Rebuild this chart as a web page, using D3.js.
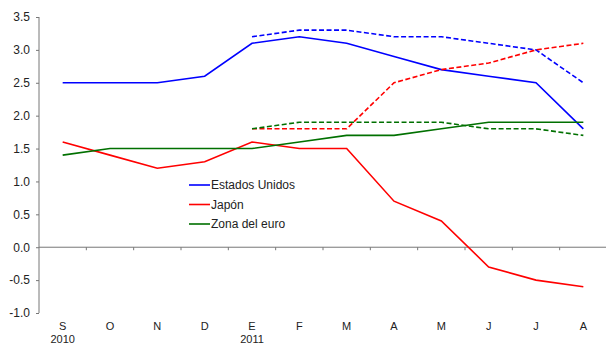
<!DOCTYPE html>
<meta charset="utf-8">
<style>
body { margin: 0; background: #fff; }
svg text { font-family: Arial, "Liberation Sans", sans-serif; fill: #222; }
.tick text { font-size: 12px; }
.axis path, .axis line { stroke: #777; }
</style>
<svg width="606" height="346"></svg>
<script src="https://cdn.jsdelivr.net/npm/d3@7"></script>
<script>

// data
var months = ["S", "O", "N", "D", "E", "F", "M", "A", "M", "J", "J", "A"];
var years = [{ label: "2010", at: 0 }, { label: "2011", at: 4 }];
var yTicks = [-1.0, -0.5, 0.0, 0.5, 1.0, 1.5, 2.0, 2.5, 3.0, 3.5];

var usActual    = [2.5, 2.5, 2.5, 2.6, 3.1, 3.2, 3.1, 2.9, 2.7, 2.6, 2.5, 1.8];
var japanActual = [1.6, 1.4, 1.2, 1.3, 1.6, 1.5, 1.5, 0.7, 0.4, -0.3, -0.5, -0.6];
var euroActual  = [1.4, 1.5, 1.5, 1.5, 1.5, 1.6, 1.7, 1.7, 1.8, 1.9, 1.9, 1.9];

// forecasts start at E (index 4)
var forecastStart = 4;
var usForecast    = [3.2, 3.3, 3.3, 3.2, 3.2, 3.1, 3.0, 2.5];
var japanForecast = [1.8, 1.8, 1.8, 2.5, 2.7, 2.8, 3.0, 3.1];
var euroForecast  = [1.8, 1.9, 1.9, 1.9, 1.9, 1.8, 1.8, 1.7];

var seriesNames = ["Estados Unidos", "Japón", "Zona del euro"];
var colors = ["#0000ff", "#ff0000", "#007000"];

var svg = d3.select("svg"),
    margin = { top: 17, right: 0, bottom: 33, left: 39 },
    width = +svg.attr("width") - margin.left - margin.right,
    height = +svg.attr("height") - margin.top - margin.bottom;

var g = svg.append("g")
    .attr("transform", "translate(" + margin.left + "," + margin.top + ")");

var x = d3.scaleBand()
    .domain(d3.range(months.length))
    .range([0, 568])
    .paddingInner(0).paddingOuter(0);

var y = d3.scaleLinear()
    .domain([-1, 3.5])
    .range([height, 0]);

function cx(i) { return x(i) + x.bandwidth() / 2; }

// y axis (plain hyphen for negatives, like the original)
var yAxis = g.append("g")
    .attr("class", "axis")
    .call(d3.axisLeft(y).tickValues(yTicks).tickSize(3).tickPadding(6)
      .tickFormat(function(d) { return d.toFixed(1); }));
yAxis.select(".domain").attr("d", "M0," + y(-1) + "V" + y(3.5));
yAxis.selectAll(".tick text").attr("fill", "#222");

// x axis along zero line, ticks between categories
var xAxisG = g.append("g")
    .attr("class", "axis")
    .attr("transform", "translate(0," + y(0) + ")");
xAxisG.append("line")
    .attr("x1", 0).attr("x2", 568)
    .attr("stroke", "#777");
xAxisG.selectAll(".xt")
  .data(d3.range(1, months.length))
  .enter().append("line")
    .attr("class", "xt")
    .attr("x1", function(d) { return x(d); })
    .attr("x2", function(d) { return x(d); })
    .attr("y1", 0).attr("y2", 3)
    .attr("stroke", "#777");

// month labels
g.selectAll(".month")
  .data(months)
  .enter().append("text")
    .attr("class", "month")
    .attr("x", function(d, i) { return cx(i); })
    .attr("y", height + 17)
    .attr("text-anchor", "middle")
    .style("font-size", "11px")
    .text(function(d) { return d; });

g.selectAll(".year")
  .data(years)
  .enter().append("text")
    .attr("class", "year")
    .attr("x", function(d) { return cx(d.at); })
    .attr("y", height + 30)
    .attr("text-anchor", "middle")
    .style("font-size", "11px")
    .text(function(d) { return d.label; });

var line = d3.line()
    .x(function(d) { return cx(d.i); })
    .y(function(d) { return y(d.v); });

var actual = [usActual, japanActual, euroActual];
var forecast = [usForecast, japanForecast, euroForecast];

actual.forEach(function(arr, k) {
  g.append("path")
    .datum(arr.map(function(v, i) { return { i: i, v: v }; }))
    .attr("fill", "none")
    .attr("stroke", colors[k])
    .attr("stroke-width", 1.6)
    .attr("d", line);
});

forecast.forEach(function(arr, k) {
  g.append("path")
    .datum(arr.map(function(v, i) { return { i: i + forecastStart, v: v }; }))
    .attr("fill", "none")
    .attr("stroke", colors[k])
    .attr("stroke-width", 1.6)
    .attr("stroke-dasharray", "5,2.5")
    .attr("d", line);
});

// legend
var legend = svg.append("g")
    .attr("transform", "translate(189,185)");
seriesNames.forEach(function(name, k) {
  var row = legend.append("g").attr("transform", "translate(0," + (k * 19.5) + ")");
  row.append("line")
    .attr("x1", 0).attr("x2", 21)
    .attr("stroke", colors[k])
    .attr("stroke-width", 1.6);
  row.append("text")
    .attr("x", 22)
    .attr("dy", "0.35em")
    .style("font-size", "12px")
    .text(name);
});

</script>
